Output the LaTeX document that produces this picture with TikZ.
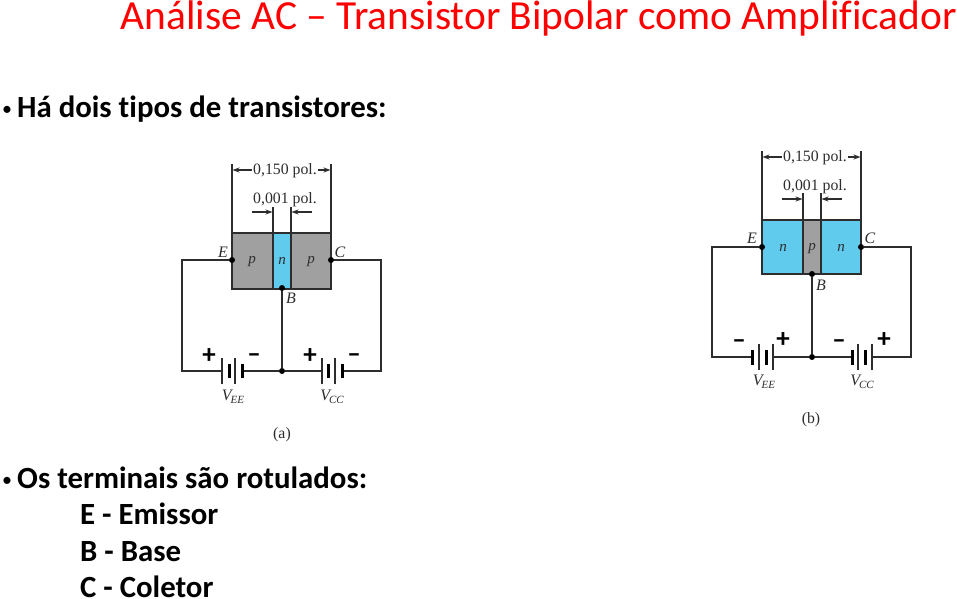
\documentclass[tikz,border=0pt]{standalone}
\usepackage{fontspec}
\setmainfont[Ligatures=NoCommon]{Carlito}
\newfontfamily\figfont{Liberation Serif}
\usetikzlibrary{arrows.meta}
\definecolor{semin}{RGB}{97,203,238}
\definecolor{semip}{RGB}{160,160,160}
\definecolor{ink}{RGB}{45,45,45}
\newcommand{\pxfont}[1]{\fontsize{#1}{#1}\selectfont}
\newcommand{\volt}[1]{\textit{V}\kern-1pt\raisebox{-3pt}{\pxfont{11}\textit{#1}}}
\tikzset{
  x=1pt,y=-1pt,
  titletext/.style={anchor=east,inner sep=0,text=red,font=\pxfont{41.4}},
  bodytext/.style={anchor=base west,inner sep=0,text=black,font=\pxfont{30.8}\bfseries},
  bullettext/.style={anchor=base west,inner sep=0,text=black,font=\pxfont{20}},
  figtext/.style={inner sep=0,text=ink,font=\figfont\pxfont{15.8}},
  termtext/.style={inner sep=0,text=ink,font=\figfont\itshape\pxfont{16}},
  semitext/.style={inner sep=0,text=ink,font=\figfont\itshape\pxfont{15}},
  signtext/.style={inner sep=0,text=black,font=\bfseries\pxfont{27}},
  wire/.style={draw=ink,line width=1.3pt},
  dimline/.style={draw=ink,line width=1.1pt},
  dimarrow/.style={draw=ink,line width=1.1pt,-{Stealth[length=7pt,width=5pt]}},
  region/.style={draw=ink,line width=1.3pt},
  dotn/.style={circle,fill=black,inner sep=0,minimum size=6pt},
  thinplate/.style={draw=ink,line width=1.3pt},
  thickplate/.style={draw=black,line width=3pt},
}
\begin{document}
\begin{tikzpicture}
\useasboundingbox (0,0) rectangle (957,598);
\fill[white] (0,0) rectangle (957,598);
\node[titletext] (title) at (957,18) {Análise AC – Transistor Bipolar como Amplificador};
\node[bullettext] (b1) at (2,115) {•};
\node[bodytext] (t1) at (17,117) {Há dois tipos de transistores:};
\node[bullettext] (b2) at (2,486) {•};
\node[bodytext] (t2) at (17,488) {Os terminais são rotulados:};
\node[bodytext] (t3) at (80,524) {E - Emissor};
\node[bodytext] (t4) at (80,561) {B - Base};
\node[bodytext] (t5) at (80,597) {C - Coletor};

% ---------- (a) pnp
\fill[semip] (232,233) rectangle (331,289);
\fill[semin] (273,233) rectangle (291,289);
\draw[region] (232,233) rectangle (331,289);
\draw[region] (273,233) -- (273,289) (291,233) -- (291,289);
\draw[dimline] (232,164) -- (232,233) (331,164) -- (331,233);
\draw[dimline] (273,207) -- (273,233) (291,207) -- (291,233);
\node[figtext,fill=white,inner xsep=1pt] (a150) at (285,171) {0,150 pol.};
\coordinate (aDL) at (232.5,170); \coordinate (aDR) at (330.5,170);
\draw[dimarrow] (a150.west |- aDL) -- (aDL);
\draw[dimarrow] (a150.east |- aDR) -- (aDR);
\node[figtext] (a001) at (285,200) {0,001 pol.};
\coordinate (aL) at (252,212); \coordinate (aLe) at (272.5,212);
\coordinate (aR) at (312,212); \coordinate (aRe) at (291.5,212);
\draw[dimarrow] (aL) -- (aLe);
\draw[dimarrow] (aR) -- (aRe);
\node[semitext] (ap1) at (252,262) {p};
\node[semitext] (an) at (282,261) {n};
\node[semitext] (ap2) at (311,262) {p};
\node[dotn] (aE) at (232,260) {};
\node[dotn] (aC) at (331,260) {};
\node[dotn] (aB) at (282,288) {};
\node[dotn] (aJ) at (282,371) {};
\node[termtext] (aEl) at (223,252) {E};
\node[termtext] (aCl) at (340,252) {C};
\node[termtext] (aBl) at (291,298) {B};
\coordinate (aTL) at (182,260); \coordinate (aBL) at (182,371);
\coordinate (aTR) at (381,260); \coordinate (aBR) at (381,371);
\coordinate (a1s) at (222,371); \coordinate (a1e) at (242,371);
\coordinate (a2s) at (322,371); \coordinate (a2e) at (342,371);
\draw[wire] (aE) -- (aTL) -- (aBL) -- (a1s);
\draw[wire] (a1e) -- (aJ) -- (a2s);
\draw[wire] (a2e) -- (aBR) -- (aTR) -- (aC);
\draw[wire] (aB) -- (aJ);
\draw[thinplate] (222,358) -- (222,384) (235,358) -- (235,384);
\draw[thickplate] (229,364) -- (229,378);
\draw[thickplate] (242,364) -- (242,378);
\draw[thinplate] (322,358) -- (322,384) (335,358) -- (335,384);
\draw[thickplate] (328,364) -- (328,378);
\draw[thickplate] (342,364) -- (342,378);
\node[signtext] (ap) at (209,356) {+};
\node[signtext] (am) at (254,358) {–};
\node[signtext] (ap3) at (310,356) {+};
\node[signtext] (am3) at (354,358) {–};
\node[termtext] (aVE) at (233,397) {\volt{EE}};
\node[termtext] (aVC) at (332,397) {\volt{CC}};
\node[figtext] (acap) at (282,435) {(a)};

% ---------- (b) npn
\fill[semin] (762,220) rectangle (861,274);
\fill[semip] (803,220) rectangle (821,274);
\draw[region] (762,220) rectangle (861,274);
\draw[region] (803,220) -- (803,274) (821,220) -- (821,274);
\draw[dimline] (762,151) -- (762,220) (861,151) -- (861,220);
\draw[dimline] (803,193) -- (803,220) (821,193) -- (821,220);
\node[figtext,fill=white,inner xsep=1pt] (b150) at (815,158) {0,150 pol.};
\coordinate (bDL) at (762.5,157); \coordinate (bDR) at (860.5,157);
\draw[dimarrow] (b150.west |- bDL) -- (bDL);
\draw[dimarrow] (b150.east |- bDR) -- (bDR);
\node[figtext] (b001) at (815,187) {0,001 pol.};
\coordinate (bL) at (782,199); \coordinate (bLe) at (802.5,199);
\coordinate (bR) at (842,199); \coordinate (bRe) at (821.5,199);
\draw[dimarrow] (bL) -- (bLe);
\draw[dimarrow] (bR) -- (bRe);
\node[semitext] (bn1) at (783,248) {n};
\node[semitext] (bp) at (812,249) {p};
\node[semitext] (bn2) at (841,248) {n};
\node[dotn] (bE) at (762,247) {};
\node[dotn] (bC) at (861,247) {};
\node[dotn] (bB) at (812,274) {};
\node[dotn] (bJ) at (812,357) {};
\node[termtext] (bEl) at (752,238) {E};
\node[termtext] (bCl) at (870,238) {C};
\node[termtext] (bBl) at (821,285) {B};
\coordinate (bTL) at (712,247); \coordinate (bBL) at (712,357);
\coordinate (bTR) at (911,247); \coordinate (bBR) at (911,357);
\coordinate (b1s) at (752,357); \coordinate (b1e) at (773,357);
\coordinate (b2s) at (852,357); \coordinate (b2e) at (872,357);
\draw[wire] (bE) -- (bTL) -- (bBL) -- (b1s);
\draw[wire] (b1e) -- (bJ) -- (b2s);
\draw[wire] (b2e) -- (bBR) -- (bTR) -- (bC);
\draw[wire] (bB) -- (bJ);
\draw[thickplate] (752,350) -- (752,365);
\draw[thickplate] (766,350) -- (766,365);
\draw[thinplate] (759,344) -- (759,370) (773,344) -- (773,370);
\draw[thickplate] (852,350) -- (852,365);
\draw[thickplate] (865,350) -- (865,365);
\draw[thinplate] (858,344) -- (858,370) (872,344) -- (872,370);
\node[signtext] (bm) at (739,344) {–};
\node[signtext] (bpl) at (783,340) {+};
\node[signtext] (bm3) at (839,344) {–};
\node[signtext] (bpl3) at (884,340) {+};
\node[termtext] (bVE) at (764,382) {\volt{EE}};
\node[termtext] (bVC) at (862,382) {\volt{CC}};
\node[figtext] (bcap) at (811,420) {(b)};
\end{tikzpicture}
\end{document}
